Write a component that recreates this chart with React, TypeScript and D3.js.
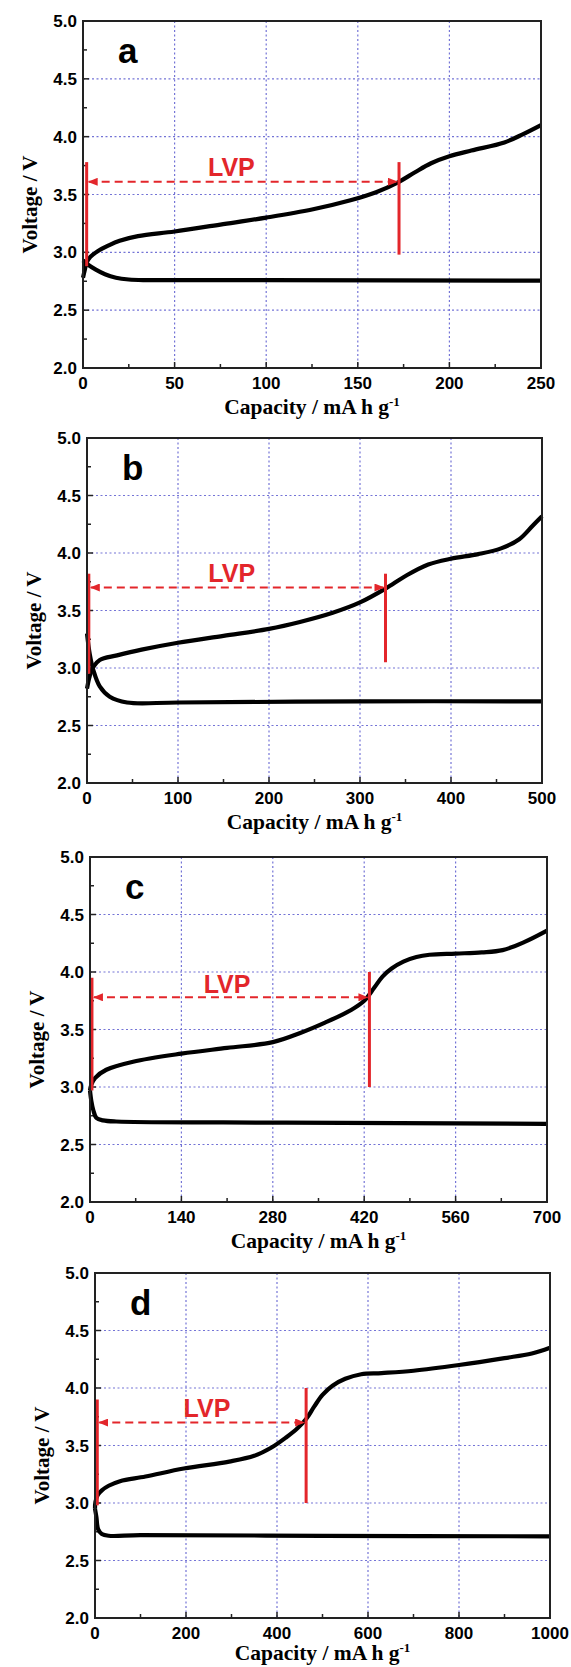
import React from "react";
import * as d3 from "d3";

// voltage axis (same on all four panels)
const voltTicks = [2.0, 2.5, 3.0, 3.5, 4.0, 4.5, 5.0];
const voltMinor = [2.25, 2.75, 3.25, 3.75, 4.25, 4.75];

const panelLetters = ["a", "b", "c", "d"];
const capMax = [250, 500, 700, 1000];
const capStep = [50, 100, 140, 200];

// [capacity mA h/g, voltage V]
const chargeA = [
  [0, 2.78], [1, 2.85], [2, 2.91], [4, 2.96], [8, 3.01], [14, 3.06], [20, 3.1],
  [30, 3.14], [50, 3.18], [75, 3.24], [100, 3.3], [125, 3.37], [146, 3.45],
  [160, 3.52], [172.5, 3.61], [181, 3.69], [190, 3.77], [200, 3.83], [212, 3.88],
  [230, 3.95], [240, 4.02], [250, 4.1],
];
const dischargeA = [
  [0, 2.93], [3, 2.89], [7, 2.85], [12, 2.81], [18, 2.78], [25, 2.765], [35, 2.76],
  [100, 2.76], [250, 2.755],
];

const chargeB = [
  [0, 2.82], [3, 2.93], [7, 3.01], [14, 3.07], [33, 3.11], [60, 3.16], [100, 3.22],
  [150, 3.28], [200, 3.34], [234, 3.4], [270, 3.48], [300, 3.57], [328, 3.69],
  [350, 3.8], [375, 3.9], [400, 3.95], [430, 3.99], [455, 4.04], [475, 4.12],
  [490, 4.24], [500, 4.32],
];
const dischargeB = [
  [0, 3.3], [3, 3.12], [7, 2.98], [14, 2.84], [25, 2.75], [44, 2.7], [100, 2.7],
  [300, 2.71], [500, 2.71],
];

const chargeC = [
  [0, 2.97], [2, 3.02], [8, 3.08], [25, 3.15], [66, 3.22], [140, 3.29], [210, 3.34],
  [280, 3.39], [322, 3.47], [360, 3.56], [400, 3.67], [420, 3.75], [435, 3.86],
  [448, 3.96], [462, 4.03], [480, 4.09], [500, 4.13], [520, 4.15], [560, 4.16],
  [600, 4.17], [632, 4.19], [665, 4.26], [700, 4.36],
];
const dischargeC = [
  [0, 2.97], [2, 2.88], [5, 2.8], [10, 2.73], [20, 2.71], [40, 2.7], [300, 2.69],
  [700, 2.68],
];

const chargeD = [
  [0, 2.95], [1, 3.01], [6, 3.07], [15, 3.11], [30, 3.15], [55, 3.19], [111, 3.23],
  [195, 3.3], [295, 3.36], [350, 3.41], [387, 3.48], [420, 3.57], [445, 3.65],
  [464, 3.73], [482, 3.84], [500, 3.94], [522, 4.02], [550, 4.08], [585, 4.12],
  [630, 4.13], [700, 4.15], [800, 4.2], [900, 4.26], [960, 4.3], [1000, 4.35],
];
const dischargeD = [
  [0, 2.95], [3, 2.88], [7, 2.77], [15, 2.73], [30, 2.715], [100, 2.72],
  [500, 2.715], [1000, 2.71],
];

// LVP markers: [capacity, top V, bottom V] for both red bars, arrow voltage, label position
const lvpLeft = [[2, 3.78, 2.88], [2, 3.82, 2.95], [3, 3.95, 2.97], [5, 3.9, 2.98]];
const lvpRight = [[172.5, 3.78, 2.98], [328, 3.82, 3.05], [428, 4.0, 3.0], [464, 4.0, 3.0]];
const lvpArrowV = [3.61, 3.7, 3.78, 3.7];
const lvpLabel = [[81, 3.66], [159, 3.75], [210, 3.82], [246, 3.75]];

const charges = [chargeA, chargeB, chargeC, chargeD];
const discharges = [dischargeA, dischargeB, dischargeC, dischargeD];

// panel frames in page pixels
const frames = [
  { left: 83, right: 541, top: 21, bottom: 368 },
  { left: 87, right: 542, top: 438, bottom: 783 },
  { left: 90, right: 547, top: 857, bottom: 1202 },
  { left: 95, right: 550, top: 1273, bottom: 1618 },
];

const W = 571;
const H = 1667;
const RED = "#e3262b";
const GRID = "#7474d6";
const SANS = "'Liberation Sans', Arial, sans-serif";
const SERIF = "'Liberation Serif', 'Times New Roman', serif";

const Panel = ({ i }) => {
  const f = frames[i];
  const x = d3.scaleLinear().domain([0, capMax[i]]).range([f.left, f.right]);
  const y = d3.scaleLinear().domain([2, 5]).range([f.bottom, f.top]);
  const line = d3
    .line()
    .x(d => x(d[0]))
    .y(d => y(d[1]))
    .curve(d3.curveCatmullRom.alpha(0.5));

  const xTicks = d3.range(0, capMax[i] + 1, capStep[i]);
  const xMinor = d3.range(capStep[i] / 2, capMax[i], capStep[i]);
  const midX = (f.left + f.right) / 2;
  const midY = (f.top + f.bottom) / 2;
  const titleY = Math.min(f.bottom + 46, H - 7);
  const [lx, lt, lb] = lvpLeft[i];
  const [rx, rt, rb] = lvpRight[i];

  return (
    <g>
      {/* grid */}
      {xTicks.slice(1, -1).map(t => (
        <line key={"gx" + t} x1={x(t)} x2={x(t)} y1={f.top} y2={f.bottom}
          stroke={GRID} strokeWidth={1.2} strokeDasharray="2,2.5" />
      ))}
      {voltTicks.slice(1, -1).map(t => (
        <line key={"gy" + t} x1={f.left} x2={f.right} y1={y(t)} y2={y(t)}
          stroke={GRID} strokeWidth={1.2} strokeDasharray="2,2.5" />
      ))}

      {/* ticks, inside */}
      {xTicks.map(t => (
        <line key={"tx" + t} x1={x(t)} x2={x(t)} y1={f.bottom} y2={f.bottom - 6} stroke="#222" strokeWidth={1.5} />
      ))}
      {xMinor.map(t => (
        <line key={"mx" + t} x1={x(t)} x2={x(t)} y1={f.bottom} y2={f.bottom - 4} stroke="#222" strokeWidth={1.5} />
      ))}
      {voltTicks.map(t => (
        <line key={"ty" + t} x1={f.left} x2={f.left + 6} y1={y(t)} y2={y(t)} stroke="#222" strokeWidth={1.5} />
      ))}
      {voltMinor.map(t => (
        <line key={"my" + t} x1={f.left} x2={f.left + 4} y1={y(t)} y2={y(t)} stroke="#222" strokeWidth={1.5} />
      ))}

      {/* curves */}
      <path d={line(discharges[i])} fill="none" stroke="#000" strokeWidth={4.2} strokeLinejoin="round" />
      <path d={line(charges[i])} fill="none" stroke="#000" strokeWidth={4.2} strokeLinejoin="round" />

      {/* LVP annotation */}
      <line x1={x(lx)} x2={x(lx)} y1={y(lt)} y2={y(lb)} stroke={RED} strokeWidth={3} />
      <line x1={x(rx)} x2={x(rx)} y1={y(rt)} y2={y(rb)} stroke={RED} strokeWidth={3} />
      <line x1={x(lx) + 2} x2={x(rx) - 2} y1={y(lvpArrowV[i])} y2={y(lvpArrowV[i])}
        stroke={RED} strokeWidth={2} strokeDasharray="8,5"
        markerStart="url(#arr)" markerEnd="url(#arr)" />
      <text x={x(lvpLabel[i][0])} y={y(lvpLabel[i][1])} textAnchor="middle"
        fontFamily={SANS} fontWeight="bold" fontSize={25} fill={RED}>LVP</text>

      {/* frame */}
      <rect x={f.left} y={f.top} width={f.right - f.left} height={f.bottom - f.top}
        fill="none" stroke="#222" strokeWidth={2} />

      {/* tick labels */}
      {xTicks.map(t => (
        <text key={"lx" + t} x={x(t)} y={f.bottom + 21} textAnchor="middle"
          fontFamily={SANS} fontWeight="bold" fontSize={17}>{t}</text>
      ))}
      {voltTicks.map(t => (
        <text key={"ly" + t} x={f.left - 6} y={y(t) + 6} textAnchor="end"
          fontFamily={SANS} fontWeight="bold" fontSize={17}>{d3.format(".1f")(t)}</text>
      ))}

      {/* panel letter */}
      <text x={f.left + 35} y={f.top + 42} fontFamily={SANS} fontWeight="bold" fontSize={35}>
        {panelLetters[i]}
      </text>

      {/* axis titles */}
      <text x={midX} y={titleY} textAnchor="middle" fontFamily={SERIF} fontWeight="bold" fontSize={21.5}>
        Capacity / mA h g<tspan dy={-8} fontSize={13}>-1</tspan>
      </text>
      <text transform={`translate(${f.left - 46},${midY + 10}) rotate(-90)`} textAnchor="middle"
        fontFamily={SERIF} fontWeight="bold" fontSize={21}>Voltage / V</text>
    </g>
  );
};

export default function App() {
  return (
    <svg width={W} height={H} style={{ position: "absolute", left: 0, top: 0, background: "#fff" }}>
      <defs>
        <marker id="arr" viewBox="0 0 10 8" refX={9} refY={4} markerWidth={5} markerHeight={4}
          orient="auto-start-reverse" markerUnits="strokeWidth">
          <path d="M0,0 L10,4 L0,8 z" fill={RED} />
        </marker>
      </defs>
      {frames.map((_, i) => (
        <Panel key={i} i={i} />
      ))}
    </svg>
  );
}
